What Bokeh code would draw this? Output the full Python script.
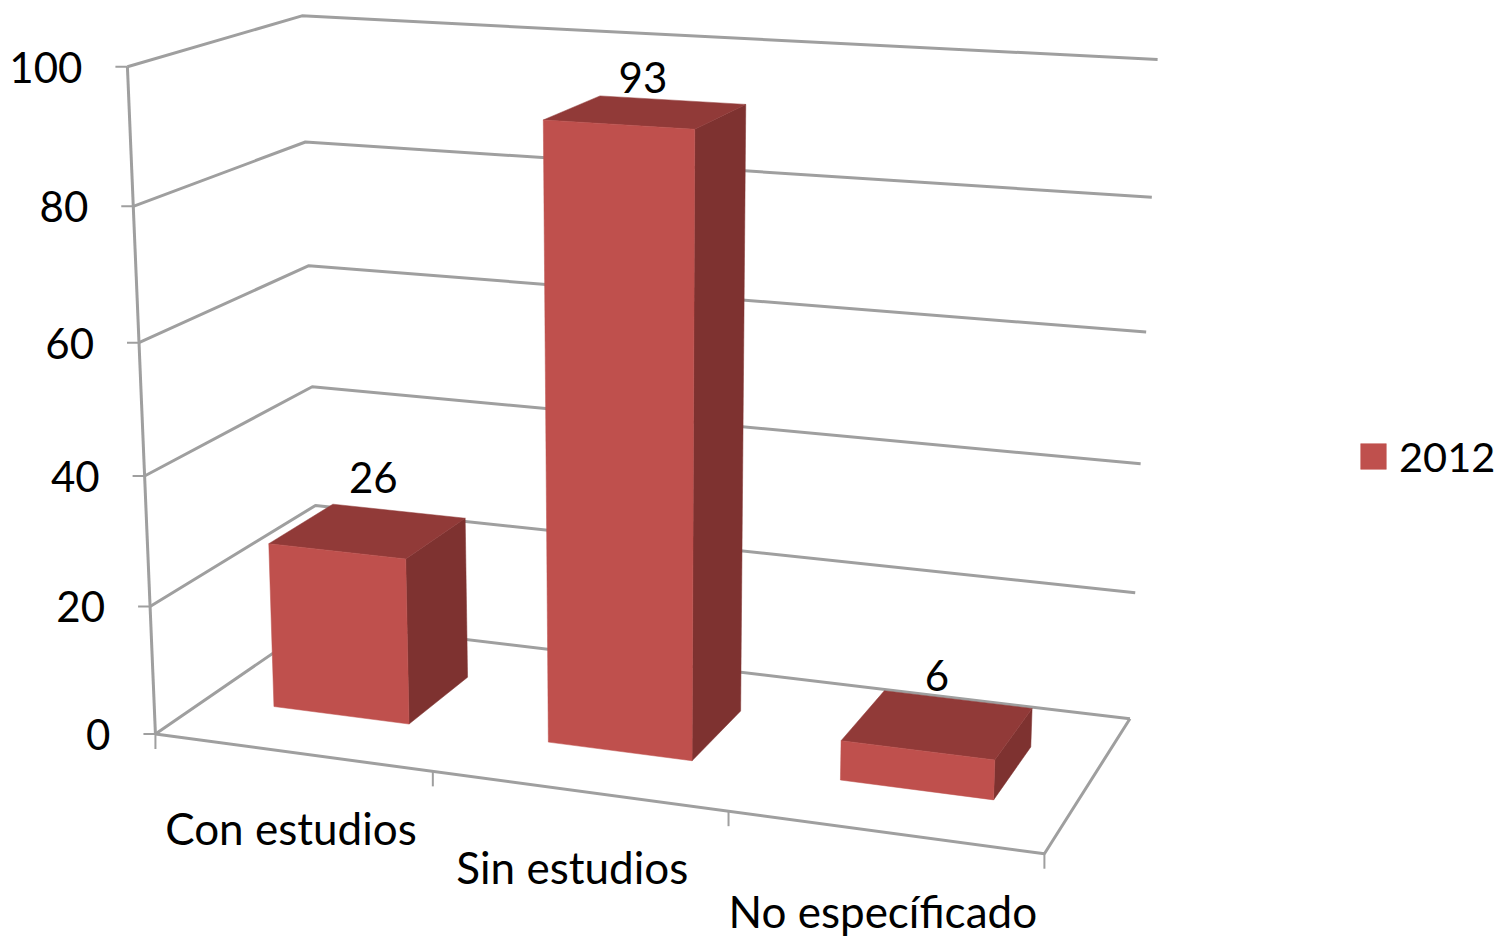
import numpy as np
from bokeh.plotting import figure
from bokeh.models import Range1d, Legend, LegendItem
from bokeh.core.properties import value
from bokeh.embed import file_html
from bokeh.resources import INLINE

# ---- chart data ----
categories = ["Con estudios", "Sin estudios", "No específicado"]
series_name = "2012"
values_2012 = [26, 93, 6]
value_ticks = [0, 20, 40, 60, 80, 100]

# ---- styling ----
FRONT, TOP, SIDE = "#BF504D", "#913A38", "#7E3230"
GRID = "#9F9F9F"
FONT = "Lato"
FS_NUM = "42px"
FS_CAT = "44px"
FS_LEG = "41.5px"
TXT = "#000000"
W, H = 1498, 938

# ---- 3D camera: calibrated from the box frame (u category, v depth, w value) ----
frame = [
    (0,0,0,155,734),(0,0,20,150,605),(0,0,40,144,475),(0,0,60,138,343),(0,0,80,133,205),(0,0,100,127,66),
    (0,1,0,318,620),(0,1,20,315,505),(0,1,40,311,387),(0,1,60,308,266),(0,1,80,305,142),(0,1,100,302,15),
    (3,1,0,1130,718),(3,1,20,1135,592),(3,1,40,1140,464),(3,1,60,1146,331),(3,1,80,1151,197),(3,1,100,1157,59),
    (3,0,0,1043,853),(1,0,0,433,772),(2,0,0,728,811),
]
A = []
for u, v, w, x, y in frame:
    X = [u / 3, v, w / 100, 1]
    A.append(X + [0, 0, 0, 0] + [-x * c for c in X])
    A.append([0, 0, 0, 0] + X + [-y * c for c in X])
P = np.linalg.svd(np.array(A, float))[2][-1].reshape(3, 4)


def proj(u, v, w):
    h = P @ np.array([u / 3, v, w / 100, 1.0])
    return float(h[0] / h[2]), float(h[1] / h[2])


def line(*pts):
    xy = [proj(*q) for q in pts]
    return [a for a, _ in xy], [b for _, b in xy]


BAR_U0, BAR_U1 = 0.25, 0.75
BAR_V0, BAR_V1 = 0.30, 0.70

p = figure(width=W, height=H, output_backend="svg", toolbar_location=None,
           x_range=Range1d(0, W), y_range=Range1d(H, 0), min_border=0,
           outline_line_color=None, background_fill_color="white", border_fill_color="white")
p.xaxis.visible = False
p.yaxis.visible = False
p.grid.visible = False

# walls: gridlines and axis frame
gx, gy = [], []
for t in value_ticks:
    a, b = line((0, 0, t), (0, 1, t), (3, 1, t))
    gx.append(a); gy.append(b)
a, b = line((0, 0, 0), (3, 0, 0), (3, 1, 0))
gx.append(a); gy.append(b)
a, b = line((0, 0, 0), (0, 0, value_ticks[-1]))
gx.append(a); gy.append(b)
p.multi_line(gx, gy, line_color=GRID, line_width=3)

# tick marks
tx, ty = [], []
for t in value_ticks:
    x, y = proj(0, 0, t)
    tx.append([x - 12, x]); ty.append([y, y])
for i in range(len(categories) + 1):
    x, y = proj(i, 0, 0)
    tx.append([x, x]); ty.append([y, y + 15])
p.multi_line(tx, ty, line_color=GRID, line_width=2)

# bars
front_r = None
for i, val in enumerate(values_2012):
    u0, u1 = i + BAR_U0, i + BAR_U1
    fx, fy = line((u0, BAR_V0, 0), (u1, BAR_V0, 0), (u1, BAR_V0, val), (u0, BAR_V0, val))
    sx, sy = line((u1, BAR_V0, 0), (u1, BAR_V1, 0), (u1, BAR_V1, val), (u1, BAR_V0, val))
    ux, uy = line((u0, BAR_V0, val), (u1, BAR_V0, val), (u1, BAR_V1, val), (u0, BAR_V1, val))
    p.patches([sx], [sy], fill_color=SIDE, line_color=SIDE, line_width=0.5)
    p.patches([ux], [uy], fill_color=TOP, line_color=TOP, line_width=0.5)
    r = p.patches([fx], [fy], fill_color=FRONT, line_color=FRONT, line_width=0.5)
    if front_r is None:
        front_r = r

# value tick labels
pts = [proj(0, 0, t) for t in value_ticks]
p.text([q[0] for q in pts], [q[1] for q in pts], text=[str(t) for t in value_ticks],
       x_offset=-45, y_offset=0.5, text_align="right", text_baseline="middle",
       text_font=value(FONT), text_font_size=FS_NUM, text_color=TXT)

# category labels
cat_dx = [-1, -6, -1]
cat_dy = [76, 76, 79]
pts = [proj(i + 0.5, 0, 0) for i in range(len(categories))]
p.text([q[0] for q in pts], [q[1] for q in pts], text=categories,
       x_offset=cat_dx, y_offset=cat_dy, text_align="center", text_baseline="middle",
       text_font=value(FONT), text_font_size=FS_CAT, text_color=TXT)

# data labels, above each bar's top face
label_dx = [5, -3, -1]
label_dy = [-53, -35, -49]
pts = [proj(i + 0.5, 0.5, val) for i, val in enumerate(values_2012)]
p.text([q[0] for q in pts], [q[1] for q in pts], text=[str(v) for v in values_2012],
       x_offset=label_dx, y_offset=label_dy, text_align="center", text_baseline="middle",
       text_font=value(FONT), text_font_size=FS_NUM, text_color=TXT)

# legend
legend = Legend(items=[LegendItem(label=series_name, renderers=[front_r])],
                location=(1357, H - 481), orientation="vertical",
                border_line_color=None, background_fill_alpha=0, padding=0, margin=0,
                glyph_width=32, glyph_height=32, label_standoff=10,
                label_text_font=FONT, label_text_font_size=FS_LEG, label_text_color=TXT)
p.add_layout(legend, "center")

open("out.html", "w").write(file_html(p, INLINE))
